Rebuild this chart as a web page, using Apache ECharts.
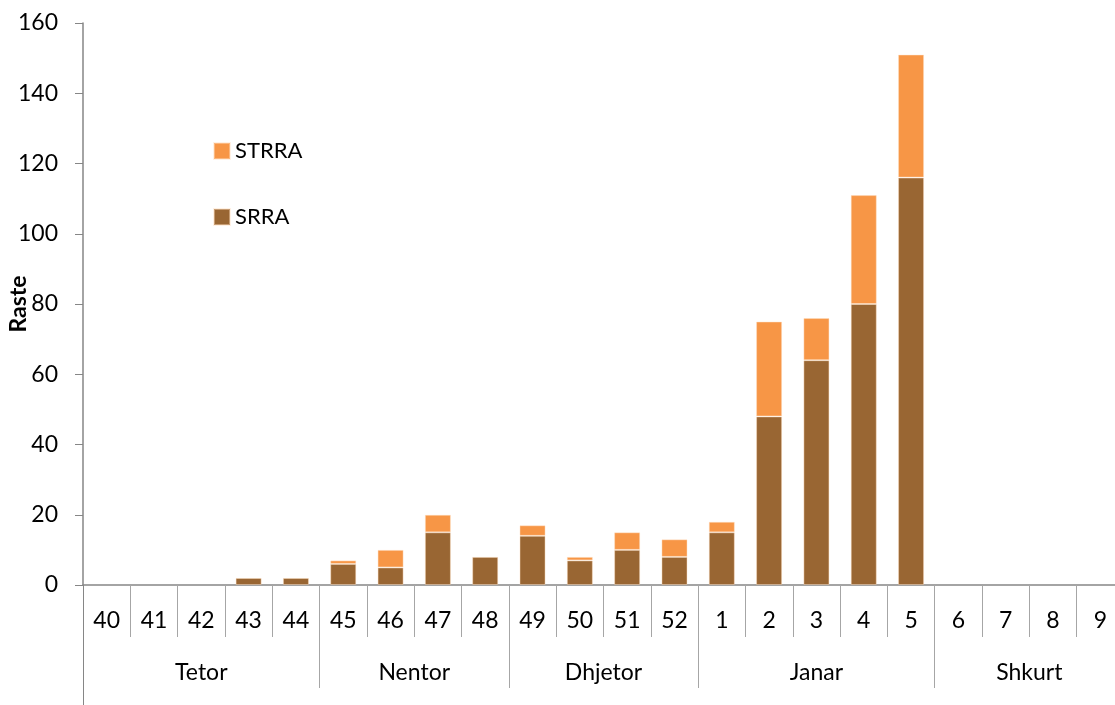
<!DOCTYPE html>
<html>
<head>
<meta charset="utf-8">
<script src="https://cdn.jsdelivr.net/npm/echarts@6/dist/echarts.min.js"></script>
<style>
  html, body { margin: 0; padding: 0; background: #fff; }
  #chart { width: 1115px; height: 705px; }
</style>
</head>
<body>
<div id="chart"></div>
<script>
// week numbers shown on the lower axis
const categories = ['40', '41', '42', '43', '44', '45', '46', '47', '48', '49', '50', '51', '52',
  '1', '2', '3', '4', '5', '6', '7', '8', '9'];
// months and how many weeks each one covers
const months = ['Tetor', 'Nentor', 'Dhjetor', 'Janar', 'Shkurt'];
const monthWeeks = [5, 4, 4, 5, 4];

const srra = [0, 0, 0, 2, 2, 6, 5, 15, 8, 14, 7, 10, 8, 15, 48, 64, 80, 116, 0, 0, 0, 0];
const strra = [0, 0, 0, 0, 0, 1, 5, 5, 0, 3, 1, 5, 5, 3, 27, 12, 31, 35, 0, 0, 0, 0];

const yTicks = { min: 0, max: 160, step: 20 };

// month boundaries and centres on a 0..n scale
const nCat = categories.length;
const monthEdges = [0];
const monthCenters = [];
monthWeeks.forEach(n => {
  const start = monthEdges[monthEdges.length - 1];
  monthCenters.push(start + n / 2);
  monthEdges.push(start + n);
});

// empty weeks get no bar at all
const noZero = arr => arr.map(v => (v === 0 ? '-' : v));

const fontFam = 'Lato, "Liberation Sans", sans-serif';
const axisGray = '#868686';
const divGray = '#a6a6a6';

var chartDom = document.getElementById('chart');
var myChart = echarts.init(chartDom);

var option = {
  animation: false,
  textStyle: { fontFamily: fontFam },
  grid: { left: 83, top: 23, width: 1041, height: 562, outerBoundsMode: 'none', containLabel: false },
  legend: {
    orient: 'vertical',
    left: 213,
    top: 140,
    padding: 0,
    itemGap: 44,
    itemWidth: 16,
    itemHeight: 16,
    icon: 'rect',
    data: ['STRRA', 'SRRA'],
    textStyle: { fontSize: 22, color: '#000', fontFamily: fontFam }
  },
  xAxis: [
    {
      type: 'category',
      data: categories,
      axisLine: { lineStyle: { color: axisGray, width: 1.5 } },
      axisTick: { show: true, interval: 0, length: 52, lineStyle: { color: divGray } },
      axisLabel: { interval: 0, fontSize: 23, color: '#000', margin: 24, fontFamily: fontFam }
    },
    {
      type: 'value',
      min: 0,
      max: nCat,
      position: 'bottom',
      offset: 52,
      splitLine: { show: false },
      axisLine: { show: false },
      axisTick: { show: true, length: 51, customValues: monthEdges, lineStyle: { color: divGray } },
      axisLabel: {
        customValues: monthCenters,
        fontSize: 23,
        color: '#000',
        margin: 24,
        fontFamily: fontFam,
        formatter: function (v) {
          const i = monthCenters.indexOf(v);
          return i >= 0 ? months[i] : '';
        }
      }
    },
    {
      type: 'value',
      min: 0,
      max: nCat,
      position: 'bottom',
      splitLine: { show: false },
      axisLine: { show: false },
      axisTick: { show: true, length: 125, customValues: [0], lineStyle: { color: axisGray } },
      axisLabel: { show: false }
    }
  ],
  yAxis: {
    type: 'value',
    min: yTicks.min,
    max: yTicks.max,
    interval: yTicks.step,
    name: 'Raste',
    nameLocation: 'middle',
    nameRotate: 90,
    nameGap: 53,
    nameMoveOverlap: false,
    nameTextStyle: { fontSize: 23, fontWeight: 'bold', color: '#000', fontFamily: fontFam },
    splitLine: { show: false },
    axisLine: { show: true, lineStyle: { color: axisGray, width: 1.5 } },
    axisTick: { show: true, length: 8, lineStyle: { color: axisGray } },
    axisLabel: { fontSize: 23, color: '#000', margin: 25, fontFamily: fontFam }
  },
  series: [
    {
      name: 'SRRA',
      type: 'bar',
      stack: 'total',
      barWidth: '55%',
      itemStyle: { color: '#996633', borderColor: 'rgba(255,225,195,0.45)', borderWidth: 1 },
      data: noZero(srra)
    },
    {
      name: 'STRRA',
      type: 'bar',
      stack: 'total',
      barWidth: '55%',
      itemStyle: { color: '#F79646', borderColor: 'rgba(255,225,195,0.45)', borderWidth: 1 },
      data: noZero(strra)
    }
  ]
};

option && myChart.setOption(option);
</script>
</body>
</html>
